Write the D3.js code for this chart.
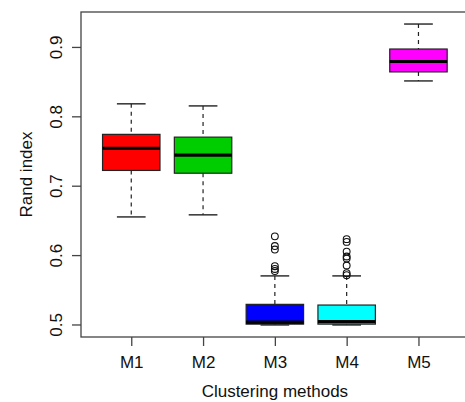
<!DOCTYPE html>
<html>
<head>
<meta charset="utf-8">
<script src="https://cdn.jsdelivr.net/npm/d3@7"></script>
<style>
  html, body { margin: 0; padding: 0; background: #fff; }
  svg { display: block; font-family: "Liberation Sans", Arial, sans-serif; }
</style>
</head>
<body>
<svg id="chart" width="465" height="402"></svg>
<script>
// Rand index of five clustering methods: box-and-whisker summaries
const methods   = ["M1", "M2", "M3", "M4", "M5"];
const colors    = ["#FF0000", "#00CD00", "#0000FF", "#00FFFF", "#FF00FF"];
const whiskLow  = [0.655, 0.658, 0.4993, 0.4993, 0.851];
const q1        = [0.722, 0.718, 0.5005, 0.5005, 0.864];
const medians   = [0.754, 0.744, 0.5035, 0.5040, 0.879];
const q3        = [0.774, 0.770, 0.529, 0.528, 0.897];
const whiskHigh = [0.818, 0.815, 0.570, 0.570, 0.933];
const outliers  = [
  [],
  [],
  [0.627, 0.613, 0.608, 0.584, 0.580, 0.577],
  [0.623, 0.619, 0.605, 0.598, 0.595, 0.585, 0.574, 0.571],
  []
];
const yTicks = [0.5, 0.6, 0.7, 0.8, 0.9];

const svg = d3.select("#chart");
const plot = { left: 81, top: 12, bottom: 337 };
const unit = 71.8;                       // width of one group slot
plot.right = plot.left + 5.4 * unit;

// data range padded by 4% on each side
const lo = d3.min(whiskLow), hi = d3.max(whiskHigh);
const pad = (hi - lo) * 0.04;
const y = d3.scaleLinear().domain([lo - pad, hi + pad]).range([plot.bottom, plot.top]);
const x = d3.scaleLinear().domain([0.3, 5.7]).range([plot.left, plot.right]);

const boxW = 0.8 * unit, capW = boxW / 2;
const ink = "#222";

const groups = svg.append("g").selectAll("g")
  .data(methods.map((m, i) => ({ m, i, pos: i + 1 })))
  .join("g");

// dashed whiskers
groups.append("line")
  .attr("x1", d => x(d.pos)).attr("x2", d => x(d.pos))
  .attr("y1", d => y(whiskHigh[d.i])).attr("y2", d => y(q3[d.i]))
  .attr("stroke", ink).attr("stroke-width", 1.2).attr("stroke-dasharray", "4,4");
groups.append("line")
  .attr("x1", d => x(d.pos)).attr("x2", d => x(d.pos))
  .attr("y1", d => y(q1[d.i])).attr("y2", d => y(whiskLow[d.i]))
  .attr("stroke", ink).attr("stroke-width", 1.2).attr("stroke-dasharray", "4,4");

// whisker caps
[whiskHigh, whiskLow].forEach(arr => {
  groups.append("line")
    .attr("x1", d => x(d.pos) - capW / 2).attr("x2", d => x(d.pos) + capW / 2)
    .attr("y1", d => y(arr[d.i])).attr("y2", d => y(arr[d.i]))
    .attr("stroke", ink).attr("stroke-width", 1.4);
});

// boxes
groups.append("rect")
  .attr("x", d => x(d.pos) - boxW / 2)
  .attr("width", boxW)
  .attr("y", d => y(q3[d.i]))
  .attr("height", d => y(q1[d.i]) - y(q3[d.i]))
  .attr("fill", d => colors[d.i])
  .attr("stroke", ink).attr("stroke-width", 1.2);

// medians
groups.append("line")
  .attr("x1", d => x(d.pos) - boxW / 2).attr("x2", d => x(d.pos) + boxW / 2)
  .attr("y1", d => y(medians[d.i])).attr("y2", d => y(medians[d.i]))
  .attr("stroke", "#000").attr("stroke-width", 3.2);

// outliers
groups.selectAll("circle")
  .data(d => outliers[d.i].map(v => ({ v, pos: d.pos })))
  .join("circle")
  .attr("cx", d => x(d.pos)).attr("cy", d => y(d.v))
  .attr("r", 3.4).attr("fill", "none").attr("stroke", "#111").attr("stroke-width", 1.1);

// plot frame
svg.append("rect")
  .attr("x", plot.left).attr("y", plot.top)
  .attr("width", plot.right - plot.left).attr("height", plot.bottom - plot.top)
  .attr("fill", "none").attr("stroke", "#444").attr("stroke-width", 1.3);

// x axis
const xAxis = svg.append("g")
  .attr("transform", `translate(0,${plot.bottom})`)
  .call(d3.axisBottom(x).tickValues(methods.map((m, i) => i + 1))
    .tickFormat((d, i) => methods[i]).tickSize(9).tickPadding(10));
xAxis.select(".domain").remove();
xAxis.selectAll(".tick line").attr("stroke", "#444").attr("stroke-width", 1.3);
xAxis.selectAll(".tick text").attr("font-size", 17).attr("fill", "#111")
  .attr("font-family", "'Liberation Sans', Arial, sans-serif");

// y axis with rotated labels
const yAxis = svg.append("g")
  .attr("transform", `translate(${plot.left},0)`)
  .call(d3.axisLeft(y).tickValues(yTicks).tickFormat(d3.format(".1f")).tickSize(9));
yAxis.select(".domain").remove();
yAxis.selectAll(".tick line").attr("stroke", "#444").attr("stroke-width", 1.3);
yAxis.selectAll(".tick text")
  .attr("x", 0).attr("y", 0).attr("dy", 0)
  .attr("transform", "translate(-19,0) rotate(-90)")
  .attr("text-anchor", "middle")
  .attr("font-size", 17).attr("fill", "#111")
  .attr("font-family", "'Liberation Sans', Arial, sans-serif");

// axis titles
svg.append("text")
  .attr("x", (x(1) + x(5)) / 2).attr("y", 397)
  .attr("text-anchor", "middle").attr("font-size", 17).attr("fill", "#111")
  .text("Clustering methods");
svg.append("text")
  .attr("transform", `translate(32,${(plot.top + plot.bottom) / 2}) rotate(-90)`)
  .attr("text-anchor", "middle").attr("font-size", 17).attr("fill", "#111")
  .text("Rand index");
</script>
</body>
</html>
